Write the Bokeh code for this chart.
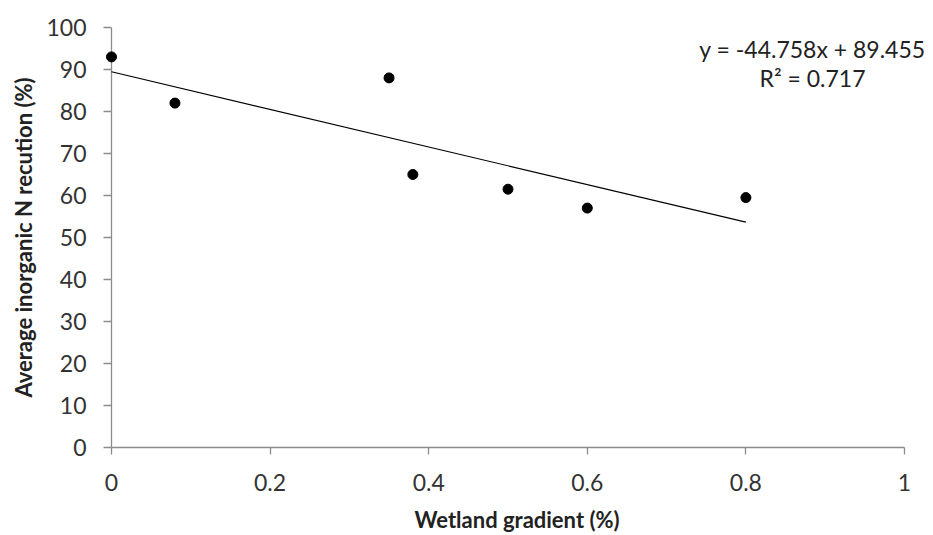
from bokeh.plotting import figure
from bokeh.models import Range1d, FixedTicker, Label, Span
from bokeh.embed import file_html
from bokeh.resources import INLINE

gradient = [0.0, 0.08, 0.35, 0.38, 0.5, 0.6, 0.8]
reduction = [93.0, 82.0, 88.0, 65.0, 61.5, 57.0, 59.5]
slope = -44.758
intercept = 89.455
r2 = 0.717
x_ticks = [0, 0.2, 0.4, 0.6, 0.8, 1]
y_ticks = [0, 10, 20, 30, 40, 50, 60, 70, 80, 90, 100]

FONT = "Lato"
AXIS_GREY = "#8c8c8c"

W, H = 933, 535
left, right, top, bottom = 103, 3, 27, 85
x0_px = 111
px_per_unit = 904 - x0_px
# frame extends a little past x=0 and x=1 so the dot at x=0 and the equation text are not clipped
x_start = -(x0_px - left) / px_per_unit
x_end = (W - right - x0_px) / px_per_unit

p = figure(width=W, height=H, output_backend="svg", toolbar_location=None,
           x_range=Range1d(x_start, x_end), y_range=Range1d(0, 100),
           min_border_left=left, min_border_right=right, min_border_top=top, min_border_bottom=bottom)
p.outline_line_color = None
p.grid.visible = False

for ax in (p.xaxis[0], p.yaxis[0]):
    ax.axis_line_color = AXIS_GREY
    ax.axis_line_width = 1.3
    ax.major_tick_line_color = AXIS_GREY
    ax.major_tick_line_width = 1.3
    ax.minor_tick_line_color = None
    ax.major_label_text_font = FONT
    ax.major_label_text_font_size = "23px"
    ax.major_label_text_color = "#333333"
    ax.axis_label_text_font = FONT
    ax.axis_label_text_font_style = "bold"
    ax.axis_label_text_font_size = "22px"
    ax.axis_label_text_color = "#222222"

p.xaxis.major_tick_out = 7
p.xaxis.major_tick_in = 0
# the y axis line is drawn at x = 0 by a span; its ticks reach from the frame edge to x = 0
p.yaxis.axis_line_color = None
p.yaxis.major_tick_out = 0
p.yaxis.major_tick_in = x0_px - left
yline = Span(location=0, dimension="height", line_color=AXIS_GREY, line_width=1.3, level="underlay")
p.add_layout(yline)

p.xaxis.bounds = (0, 1)
p.xaxis.ticker = FixedTicker(ticks=x_ticks)
p.yaxis.ticker = FixedTicker(ticks=y_ticks)
p.xaxis.major_label_overrides = {0: "0", 1: "1"}
p.xaxis.major_label_standoff = 19
p.yaxis.major_label_standoff = 17
p.xaxis.axis_label = "Wetland gradient (%)"
p.yaxis.axis_label = "Average inorganic N recution (%)"
p.xaxis.axis_label_standoff = 12
p.yaxis.axis_label_standoff = 6

xa, xb = min(gradient), max(gradient)
p.line([xa, xb], [slope * xa + intercept, slope * xb + intercept], line_color="black", line_width=1.2)
p.scatter(gradient, reduction, size=10, fill_color="black", line_color="black")

eq1 = Label(x=0.884, y=95, text=f"y = {slope}x + {intercept}", text_align="center", text_baseline="middle",
            text_font=FONT, text_font_size="23px", text_color="#222222")
eq2 = Label(x=0.884, y=88, text=f"R² = {r2}", text_align="center", text_baseline="middle",
            text_font=FONT, text_font_size="23px", text_color="#222222")
p.add_layout(eq1)
p.add_layout(eq2)

open("out.html", "w").write(file_html(p, INLINE))
